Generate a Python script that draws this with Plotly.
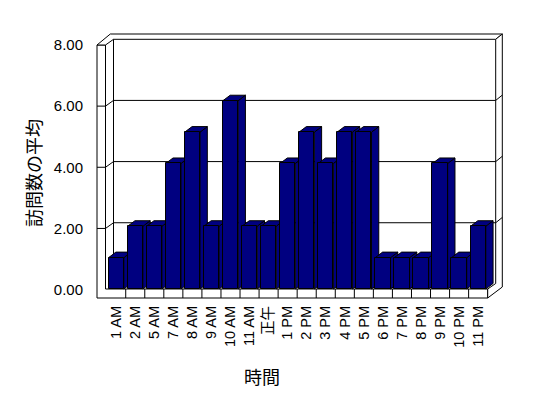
import plotly.graph_objects as go

# ---------------- data ----------------
categories = ["1 AM", "2 AM", "5 AM", "7 AM", "8 AM", "9 AM", "10 AM", "11 AM", "正午",
              "1 PM", "2 PM", "3 PM", "4 PM", "5 PM", "6 PM", "7 PM", "8 PM", "9 PM",
              "10 PM", "11 PM"]
visits = [1, 2, 2, 4, 5, 2, 6, 2, 2, 4, 5, 4, 5, 5, 1, 1, 1, 4, 1, 2]
y_ticks = [0, 2, 4, 6, 8]
y_tick_labels = ["0.00", "2.00", "4.00", "6.00", "8.00"]
x_title = "時間"
y_title = "訪問数の平均"

# ---------------- layout geometry (window pixels) ----------------
OFF = 8                                    # page body margin
W, H = 548 - OFF, 398 - OFF
PL, PR, PT, PB = 88, 512, 26, 300          # plot area (window pixels)
CX0, CXS = 116.2, 19.05                    # category 0 centre, category pitch
BY0, BYS = 289.0, 31.38                    # bar baseline, px per unit (front of bars)
WY0, WYS = 283.9, 30.58                    # back wall baseline, px per unit
FY0 = 289.6                                # front wall baseline (tick labels)
BAR_W = 0.80                               # bar width in category units
DEPTH_X, DEPTH_Y = 7.3, 5.5                # bar depth offset (px)

NAVY = "#000080"
FONT = "Liberation Sans, Arial, Noto Sans CJK JP, sans-serif"
CJK = "Noto Sans CJK JP, sans-serif"


def xd(px):
    return (px - CX0) / CXS


def yd(py):  # bar axis
    return (BY0 - py) / BYS


def yw(py):  # back-wall axis
    return (WY0 - py) / WYS


n = len(categories)
xs = list(range(n))

fig = go.Figure()
fig.add_trace(go.Bar(
    x=xs, y=visits, width=BAR_W,
    marker=dict(color=NAVY, line=dict(color="black", width=1)),
    hoverinfo="skip", showlegend=False,
))
# helper traces so the extra axes exist
fig.add_trace(go.Scatter(x=[0], y=[0], yaxis="y2", mode="markers",
                         marker=dict(opacity=0), hoverinfo="skip", showlegend=False))
fig.add_trace(go.Scatter(x=[0], y=[0], yaxis="y3", mode="markers",
                         marker=dict(opacity=0), hoverinfo="skip", showlegend=False))

shapes = []


def poly(pts, fill="white"):
    path = "M " + " L ".join(f"{xd(px)},{yd(py)}" for px, py in pts) + " Z"
    shapes.append(dict(type="path", path=path, xref="x", yref="y", layer="below",
                       fillcolor=fill, line=dict(color="black", width=1)))


def seg(p0, p1):
    shapes.append(dict(type="line", xref="x", yref="y", layer="below",
                       x0=xd(p0[0]), y0=yd(p0[1]), x1=xd(p1[0]), y1=yd(p1[1]),
                       line=dict(color="black", width=1)))


# walls / floor frame
L_OUT, L_IN, L_BACK, L_BACKO = 97.0, 105.5, 113.5, 110.3
R_IN, R_OUT = 495.7, 502.3
TOP_O, TOP_I, FRONT_TOP = 34.0, 39.3, 45.0
FLOOR_T, FLOOR_B, RIGHT_END = 289.0, 298.0, 487.7
FLOOR_BACK = 283.5

# front face of left wall + floor slab (L shape)
poly([(L_OUT, FRONT_TOP), (L_IN, FRONT_TOP), (L_IN, FLOOR_T), (RIGHT_END, FLOOR_T),
      (RIGHT_END, FLOOR_B), (L_OUT, FLOOR_B)])
# top edges of walls
poly([(L_OUT, FRONT_TOP), (L_BACKO, TOP_O), (R_OUT, TOP_O), (R_IN, TOP_I),
      (L_BACK, TOP_I), (L_IN, FRONT_TOP)])
# right wall side + floor end
poly([(R_IN, TOP_I), (R_OUT, TOP_O), (R_OUT, FLOOR_T - 2), (RIGHT_END, FLOOR_B),
      (RIGHT_END, FLOOR_T), (R_IN, FLOOR_BACK)])
# back wall left edge
seg((L_BACK, TOP_I), (L_BACK, FLOOR_T))
# floor separators at category boundaries
for k in range(1, n):
    shapes.append(dict(type="line", xref="x", yref="y", layer="below",
                       x0=k - 0.5, x1=k - 0.5, y0=yd(FLOOR_T), y1=yd(FLOOR_B),
                       line=dict(color="black", width=1)))

# gridlines on back wall (y3 axis), with wall diagonals and front ticks
front_dy = (FY0 - WY0) / WYS
for v in y_ticks[1:-1]:
    shapes.append(dict(type="line", xref="x", yref="y3", layer="below",
                       x0=xd(L_BACK), x1=xd(R_IN), y0=v, y1=v,
                       line=dict(color="black", width=1)))
    shapes.append(dict(type="line", xref="x", yref="y3", layer="below",
                       x0=xd(L_IN), x1=xd(L_BACK), y0=v - front_dy, y1=v,
                       line=dict(color="black", width=1)))
    shapes.append(dict(type="line", xref="x", yref="y3", layer="below",
                       x0=xd(L_OUT), x1=xd(L_IN), y0=v - front_dy, y1=v - front_dy,
                       line=dict(color="black", width=1)))
    shapes.append(dict(type="line", xref="x", yref="y3", layer="below",
                       x0=xd(R_IN), x1=xd(R_OUT), y0=v, y1=v + 5.3 / WYS,
                       line=dict(color="black", width=1)))

# 3-D side and top faces of the bars
ddx = DEPTH_X / CXS
ddy = DEPTH_Y / BYS
for i, v in zip(xs, visits):
    xl, xr = i - BAR_W / 2, i + BAR_W / 2
    side = f"M {xr},0 L {xr + ddx},{ddy} L {xr + ddx},{v + ddy} L {xr},{v} Z"
    top = f"M {xl},{v} L {xl + ddx},{v + ddy} L {xr + ddx},{v + ddy} L {xr},{v} Z"
    for p in (side, top):
        shapes.append(dict(type="path", path=p, xref="x", yref="y", layer="below",
                           fillcolor=NAVY, line=dict(color="black", width=1)))

plot_h = PB - PT
annotations = [
    dict(text=x_title, xref="paper", yref="paper", xanchor="center", yanchor="middle",
         x=(262 - PL) / (PR - PL), y=(PB - 376) / plot_h,
         showarrow=False, font=dict(family=CJK, size=18, color="black")),
    dict(text=y_title, xref="paper", yref="paper", textangle=-90,
         xanchor="center", yanchor="middle",
         x=(33 - PL) / (PR - PL), y=(PB - 173) / plot_h,
         showarrow=False, font=dict(family=CJK, size=18, color="black")),
]

fig.update_layout(
    width=W, height=H,
    margin=dict(l=PL - OFF, r=W - (PR - OFF), t=PT - OFF, b=H - (PB - OFF), pad=0),
    paper_bgcolor="white", plot_bgcolor="rgba(0,0,0,0)",
    showlegend=False, bargap=0,
    shapes=shapes, annotations=annotations,
    xaxis=dict(range=[xd(PL), xd(PR)], tickmode="array", tickvals=xs, ticktext=categories,
               tickangle=-90, showgrid=False, zeroline=False, showline=False, ticks="",
               tickfont=dict(family=FONT, size=14.5, color="black"), ticklabelstandoff=2,
               fixedrange=True),
    yaxis=dict(range=[yd(PB), yd(PT)], visible=False, fixedrange=True),
    yaxis2=dict(range=[(FY0 - PB) / WYS, (FY0 - PT) / WYS], overlaying="y", side="left",
                tickmode="array", tickvals=y_ticks, ticktext=y_tick_labels,
                showgrid=False, zeroline=False, showline=False, ticks="",
                tickfont=dict(family=FONT, size=15, color="black"),
                ticklabelstandoff=4, fixedrange=True),
    yaxis3=dict(range=[yw(PB), yw(PT)], overlaying="y", visible=False, fixedrange=True),
)

fig.write_html("out.html")
